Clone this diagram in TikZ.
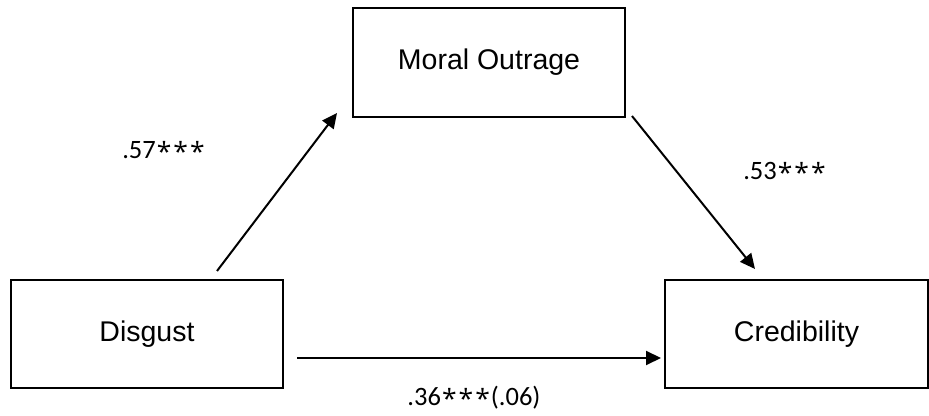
\documentclass[tikz,border=0pt]{standalone}
\usepackage{fontspec}
\setmainfont{Liberation Sans}
\newfontfamily\numfont{Carlito}
\newfontfamily\starfont{Open Sans}
\newcommand\stars{{\starfont\raisebox{-2.5pt}{\kern1pt*\kern2pt*\kern2pt*\kern1pt}}}
\usetikzlibrary{arrows.meta}

\begin{document}
\begin{tikzpicture}[x=1pt,y=1pt,
		box/.style={draw,line width=2pt,minimum width=272pt,minimum height=108pt,inner sep=0pt,font=\fontsize{28.5}{30}\selectfont},
		coef/.style={inner sep=0pt,font=\numfont\fontsize{26.5}{28}\selectfont},
		link/.style={line width=2pt,-{Triangle[length=15pt,width=14pt]}}]
	\useasboundingbox (0,0) rectangle (929,415);
	\node[box] (dis) at (147,81) {Disgust};
	\node[box,minimum width=263pt] (cred) at (796.5,81) {Credibility};
	\node[box,minimum height=109pt] (mor) at (489,352.5) {Moral Outrage};
	\draw[link] ([shift={(70,8)}]dis.north) -- ([shift={(-15,5)}]mor.south west);
	\draw[link] ([shift={(6,2)}]mor.south east) -- ([shift={(-41.5,10)}]cred.north);
	\draw[link] ([shift={(13,-24)}]dis.east) -- ([shift={(-3,-24)}]cred.west);
	\node[coef] (apath) at (164,264) {.57\stars};
	\node[coef] (bpath) at (785,243) {.53\stars};
	\node[coef] (cpath) at (474,17) {.36\stars(.06)};
\end{tikzpicture}
\end{document}
